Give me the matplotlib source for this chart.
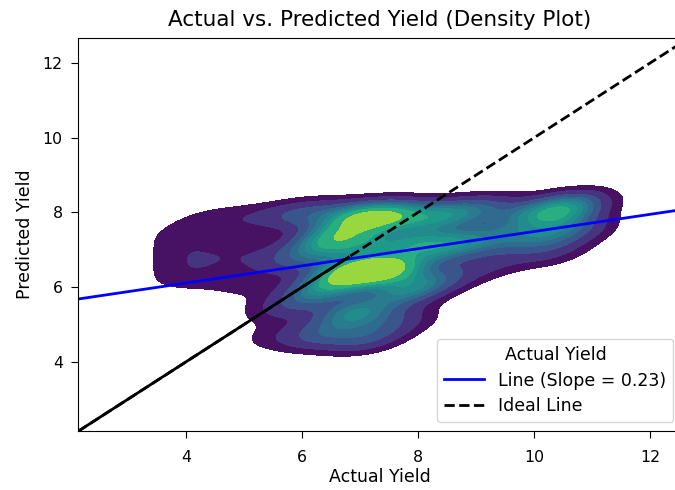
import matplotlib
matplotlib.use("Agg")
import matplotlib.pyplot as plt
import numpy as np
import pandas as pd
import seaborn as sns

# weighted sample points (actual, predicted, count)
ACTUAL = [6.85, 7.25, 7.65, 6.8, 7.2, 7.6, 7.1,
          6.5, 7.9, 6.4, 7.8, 6.9, 6.3, 7.1, 7.7,
          3.8, 3.8, 3.8, 4.3, 4.3, 4.3, 4.3, 5.0, 5.0, 5.0,
          5.5, 5.5, 5.7, 5.6, 6.0, 6.1, 6.1,
          8.4, 8.5, 8.4, 9.1, 9.2, 9.2, 9.9, 10.0, 10.4, 10.5, 10.3, 10.6, 10.8, 10.8]
PREDICTED = [7.9, 7.9, 7.9, 6.45, 6.45, 6.45, 7.15,
             7.3, 7.2, 6.0, 5.9, 5.3, 4.7, 4.6, 5.1,
             6.3, 6.85, 7.4, 6.2, 6.75, 7.3, 7.85, 6.0, 6.9, 7.9,
             5.4, 4.7, 7.9, 6.7, 5.6, 8.0, 6.8,
             7.9, 7.1, 6.2, 8.1, 7.3, 6.6, 7.9, 7.3, 8.1, 7.7, 6.9, 8.2, 7.5, 8.2]
COUNT = [2.6, 2.6, 2.6, 3.1, 3.1, 3.1, 2.2,
         4, 2.6, 3, 3, 3.5, 2, 2, 1.5,
         0.6, 0.6, 0.6, 0.6, 0.6, 0.6, 0.6, 0.7, 0.7, 0.7,
         0.8, 0.8, 1.0, 1.0, 1.2, 1.4, 1.4,
         3, 3, 1.5, 2, 2, 1.2, 2, 2, 1.5, 1.5, 1.2, 1.6, 1.2, 0.8]

SLOPE = 0.23
INTERCEPT = 5.19
AXIS_MIN, AXIS_MAX = 2.14, 12.6
SOLID_END = 6.8  # solid part of the y = x line

df = pd.DataFrame({"Actual Yield": ACTUAL, "Predicted Yield": PREDICTED, "n": COUNT})

fig = plt.figure(figsize=(6.75, 4.9), dpi=100)
ax = fig.add_axes([78 / 675, 59 / 490, 604 / 675, 393 / 490])

sns.kdeplot(data=df, x="Actual Yield", y="Predicted Yield", weights="n",
            fill=True, cmap="viridis", bw_method=0.3, ax=ax)

xs = np.array([AXIS_MIN - 1, AXIS_MAX + 1])
ax.plot(xs, SLOPE * xs + INTERCEPT, color="blue", lw=2,
        label=f"Line (Slope = {SLOPE:.2f})")
ax.plot([AXIS_MIN, SOLID_END], [AXIS_MIN, SOLID_END], color="black", lw=2)
ax.plot([AXIS_MIN, AXIS_MAX], [AXIS_MIN, AXIS_MAX], color="black", ls="--", lw=2,
        label="Ideal Line")

ax.set_xlim(AXIS_MIN, 12.55)
ax.set_ylim(2.15, 12.67)
ax.set_xticks([4, 6, 8, 10, 12])
ax.set_yticks([4, 6, 8, 10, 12])
ax.tick_params(labelsize=11.3, length=5)
ax.tick_params(axis="x", pad=9)
ax.tick_params(axis="y", pad=6)
ax.set_xlabel("Actual Yield", fontsize=12.5, labelpad=2)
ax.set_ylabel("Predicted Yield", fontsize=12.5, labelpad=6)
ax.set_title("Actual vs. Predicted Yield (Density Plot)", fontsize=15.5, pad=9)
ax.legend(title="Actual Yield", loc="lower right", fontsize=12.5,
          title_fontsize=12.5, labelspacing=0.45, handlelength=2.3,
          borderaxespad=0.5)

fig.savefig("out.png", dpi=100)
